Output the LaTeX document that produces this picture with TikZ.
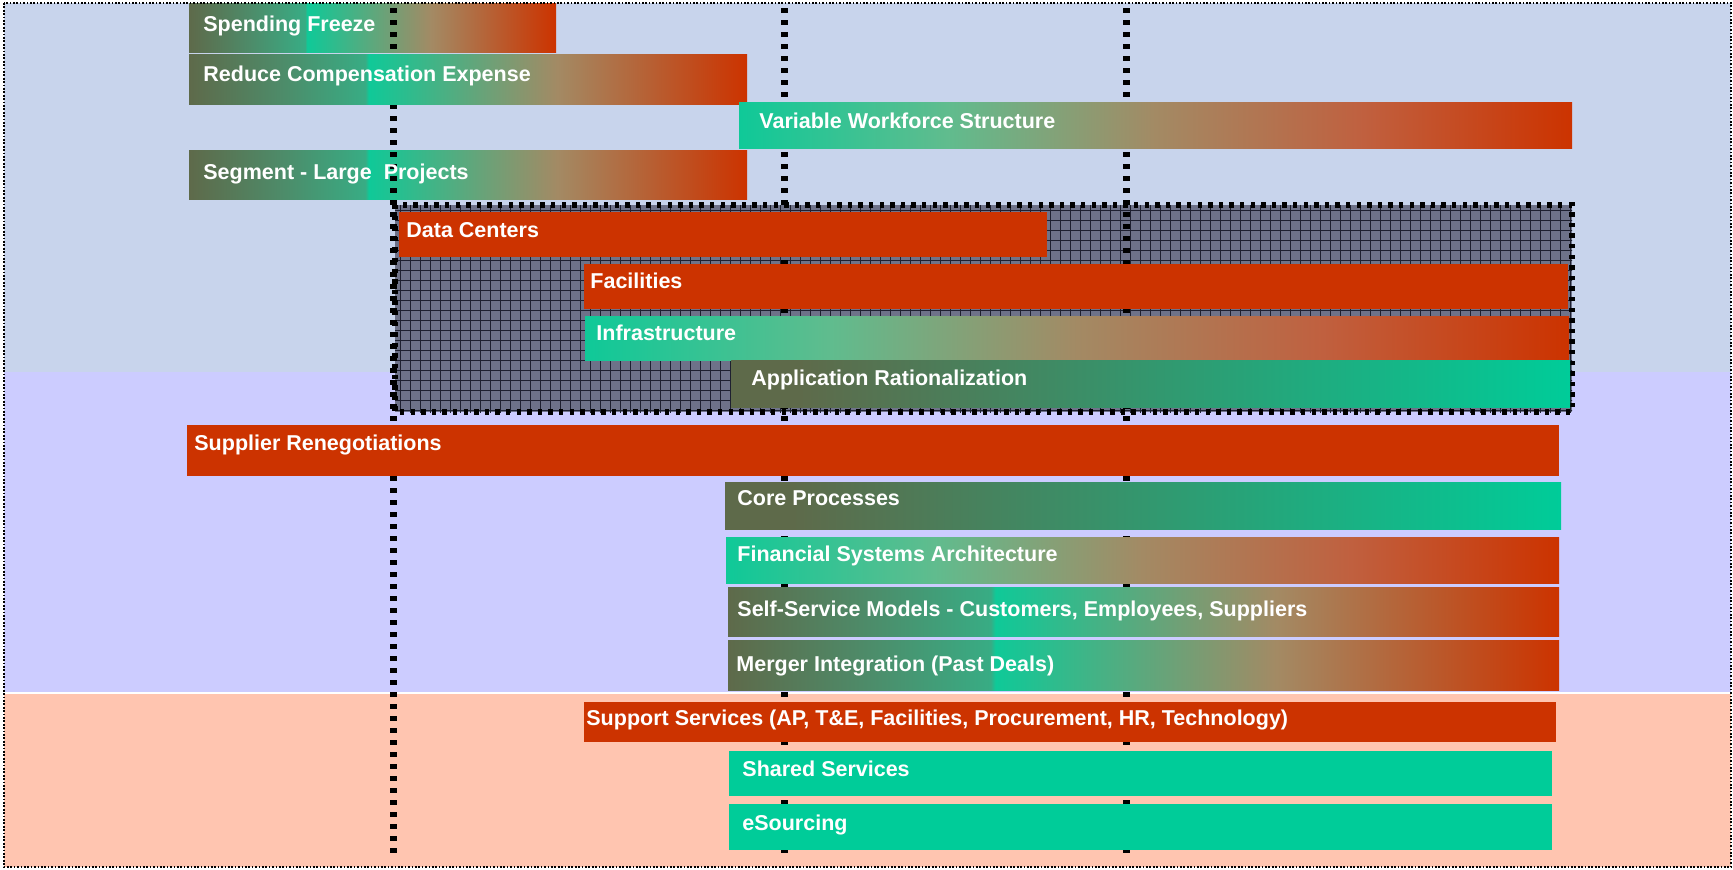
\documentclass[tikz,border=0pt]{standalone}
\usepackage{fontspec}
\setmainfont{Liberation Sans}

% palette
\definecolor{cOlive}{HTML}{5E6A4A}
\definecolor{cDeepGreen}{HTML}{4E8A68}
\definecolor{cMidGreen}{HTML}{38AC84}
\definecolor{cTeal}{HTML}{0FC998}
\definecolor{cLightGreen}{HTML}{60BC8E}
\definecolor{cTan}{HTML}{A38A64}
\definecolor{cBrick}{HTML}{C0603F}
\definecolor{cRed}{HTML}{CC3300}
\definecolor{cSolidTeal}{HTML}{00CC99}
\definecolor{bandTop}{HTML}{C8D4EC}
\definecolor{bandMid}{HTML}{CCCCFF}
\definecolor{bandLow}{HTML}{FFC5B0}
\definecolor{hatchBase}{HTML}{6E7289}
\definecolor{hatchLine}{HTML}{1E2030}

% olive -> teal -> tan -> red
\pgfdeclarehorizontalshading{gradA}{100bp}{%
  color(0bp)=(cOlive); color(25bp)=(cOlive);
  color(33bp)=(cDeepGreen);
  color(40.8bp)=(cMidGreen); color(41.1bp)=(cTeal);
  color(58bp)=(cTan); color(75bp)=(cRed); color(100bp)=(cRed)}
% teal -> tan -> red
\pgfdeclarehorizontalshading{gradB}{100bp}{%
  color(0bp)=(cTeal); color(25bp)=(cTeal);
  color(37.5bp)=(cLightGreen); color(50bp)=(cTan);
  color(62.5bp)=(cBrick); color(75bp)=(cRed); color(100bp)=(cRed)}
% olive -> teal
\pgfdeclarehorizontalshading{gradC}{100bp}{%
  color(0bp)=(cOlive); color(25bp)=(cOlive); color(29bp)=(cOlive);
  color(75bp)=(cSolidTeal); color(100bp)=(cSolidTeal)}

\tikzset{
  lbl/.style={anchor=base west, inner sep=0pt, text=white,
    font=\bfseries\fontsize{10.75}{13}\selectfont},
  redbar/.style={fill=cRed},
  tealbar/.style={fill=cSolidTeal},
  fadeA/.style={shade, shading=gradA},
  fadeB/.style={shade, shading=gradB},
  fadeC/.style={shade, shading=gradC},
  guide/.style={draw=black, line width=3.5pt, dash pattern=on 2.6pt off 3.4pt},
  hatchborder/.style={draw=black, line width=2.6pt, dash pattern=on 2.2pt off 3.1pt},
  frame/.style={draw=black, line width=0.7pt, dash pattern=on 0.85pt off 0.85pt},
  gridline/.style={draw=hatchLine, line width=0.35pt},
}

% a bar's body, and its caption
\newcommand\barbody[5]{\path[#1] (#2,#3) rectangle (#4,#5);}
\newcommand\barcaption[4]{\node[lbl] (#1) at (#2,#3) {#4};}
% one bar of the chart with its caption
\newcommand\ganttbar[9]{%
  \barbody{#2}{#3}{#4}{#5}{#6}%
  \barcaption{#1}{#7}{#8}{#9}%
}

\begin{document}
\begin{tikzpicture}[x=0.5pt,y=-0.5pt]
\useasboundingbox (0,0) rectangle (1733,869);
\fill[white] (0,0) rectangle (1733,869);

% background bands
\fill[bandTop] (4,3) rectangle (1731,372);
\fill[bandMid] (4,372) rectangle (1731,692);
\fill[bandLow] (4,694) rectangle (1731,867);

% cross-hatched group
\fill[hatchBase] (395,205) rectangle (1572,412);
\begin{scope}
  \clip (395,205) rectangle (1572,412);
  \draw[gridline, step=5pt] (390,200) grid (1580,420);
\end{scope}
\draw[hatchborder] (395,205) rectangle (1572,412);

% these two bars sit beneath the milestone guides
\barbody{fadeA}{189}{3}{556}{52}
\barbody{fadeA}{189}{150}{747}{199}

% vertical milestone guides
\coordinate (g1t) at (393,8);   \coordinate (g1b) at (393,853);
\coordinate (g2t) at (784,8);   \coordinate (g2b) at (784,853);
\coordinate (g3t) at (1126,8);  \coordinate (g3b) at (1126,853);
\draw[guide] (g1t) -- (g1b);
\draw[guide] (g2t) -- (g2b);
\draw[guide] (g3t) -- (g3b);

% bars
\barcaption{spend}{203}{31}{Spending Freeze}
\ganttbar{comp}{fadeA}{189}{54}{747}{104}{203}{81}{Reduce Compensation Expense}
\ganttbar{workforce}{fadeB}{739}{102}{1572}{148}{759}{128.5}{Variable Workforce Structure}
\barcaption{segment}{203}{179}{Segment - Large\ \ Projects}

\ganttbar{datacenters}{redbar}{399}{212}{1047}{257}{406}{237.5}{Data Centers}
\ganttbar{facilities}{redbar}{584}{264}{1568}{309}{590}{288.5}{Facilities}
\ganttbar{infra}{fadeB}{585}{316}{1569}{360}{596}{340.5}{Infrastructure}
\ganttbar{apprat}{fadeC}{731}{360}{1570}{407}{751}{385}{Application Rationalization}

\ganttbar{supplier}{redbar}{187}{425}{1559}{476}{194}{450.7}{Supplier Renegotiations}
\ganttbar{core}{fadeC}{725}{482}{1561}{529}{737}{505.7}{Core Processes}
\ganttbar{finsys}{fadeB}{726}{537}{1559}{583}{737}{561}{Financial Systems Architecture}
\ganttbar{selfserv}{fadeA}{728}{587}{1559}{636}{737}{616.7}{Self-Service Models - Customers, Employees, Suppliers}
\ganttbar{merger}{fadeA}{728}{640}{1559}{690}{736}{671.7}{Merger Integration (Past Deals)}

\ganttbar{support}{redbar}{584}{702}{1556}{742}{586}{725}{Support Services (AP, T\&E, Facilities, Procurement, HR, Technology)}
\ganttbar{shared}{tealbar}{729}{751}{1552}{796}{742}{776}{Shared Services}
\ganttbar{esourcing}{tealbar}{729}{804}{1552}{850}{742}{830}{eSourcing}

% outer frame
\draw[frame] (4,3) rectangle (1731,867);
\end{tikzpicture}
\end{document}
